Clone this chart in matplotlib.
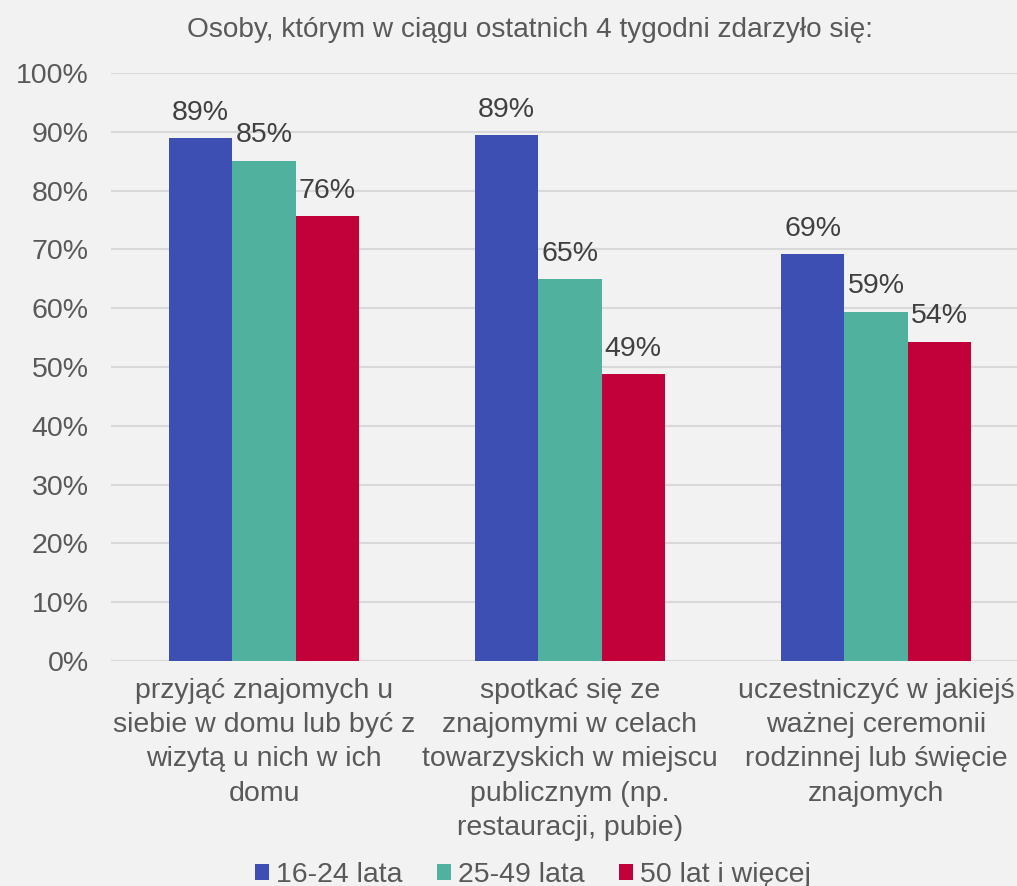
import matplotlib
matplotlib.use("Agg")
import matplotlib.pyplot as plt
import numpy as np

# Data
categories = [
    "przyjąć znajomych u\nsiebie w domu lub być z\nwizytą u nich w ich\ndomu",
    "spotkać się ze\nznajomymi w celach\ntowarzyskich w miejscu\npublicznym (np.\nrestauracji, pubie)",
    "uczestniczyć w jakiejś\nważnej ceremonii\nrodzinnej lub święcie\nznajomych",
]
series_names = ["16-24 lata", "25-49 lata", "50 lat i więcej"]
vals_16_24 = [88.9, 89.4, 69.2]
vals_25_49 = [85.1, 64.9, 59.4]
vals_50plus = [75.6, 48.8, 54.3]
yticks = [0, 10, 20, 30, 40, 50, 60, 70, 80, 90, 100]
title = "Osoby, którym w ciągu ostatnich 4 tygodni zdarzyło się:"

colors = ["#3E4FB4", "#51B19F", "#C2003A"]
bg = "#f2f2f2"
txt = "#595959"

plt.rcParams["font.family"] = ["Liberation Sans", "DejaVu Sans"]

fig = plt.figure(figsize=(10.17, 8.86), dpi=100, facecolor=bg)
ax = fig.add_axes([111 / 1017, 1 - 661 / 886, 918 / 1017, 588 / 886])
ax.set_facecolor(bg)

x = np.arange(len(categories))
w = 0.207
handles = []
for i, (vals, c, name) in enumerate(zip([vals_16_24, vals_25_49, vals_50plus], colors, series_names)):
    bars = ax.bar(x + (i - 1) * w, vals, width=w, color=c, label=name, zorder=3)
    handles.append(bars)
    for b, v in zip(bars, vals):
        ax.annotate(f"{v:.0f}%", (b.get_x() + b.get_width() / 2, v),
                    xytext=(0, 9), textcoords="offset points",
                    ha="center", va="bottom", fontsize=20.5, color="#404040")

ax.set_xlim(-0.5, 2.5)
ax.set_ylim(0, 100)
ax.set_yticks(yticks)
ax.set_yticklabels([f"{t}%" for t in yticks])
ax.set_xticks(x)
ax.set_xticklabels(categories, linespacing=1.42)
ax.tick_params(axis="y", length=0, pad=16, labelsize=20.5, labelcolor=txt)
ax.tick_params(axis="x", length=0, pad=12, labelsize=20.5, labelcolor=txt)
ax.grid(axis="y", color="#d9d9d9", linewidth=1.5, zorder=0)
for s in ax.spines.values():
    s.set_visible(False)

fig.text(0.521, 0.966, title, ha="center", va="center", fontsize=20.2, color=txt)

fig.legend(handles=handles, labels=series_names, loc="center",
           bbox_to_anchor=(0.524, 0.012), ncol=3, frameon=False,
           fontsize=20.5, labelcolor=txt, handlelength=0.5, handleheight=0.5,
           handletextpad=0.25, columnspacing=1.2)

fig.savefig("out.png", dpi=100, facecolor=bg)
